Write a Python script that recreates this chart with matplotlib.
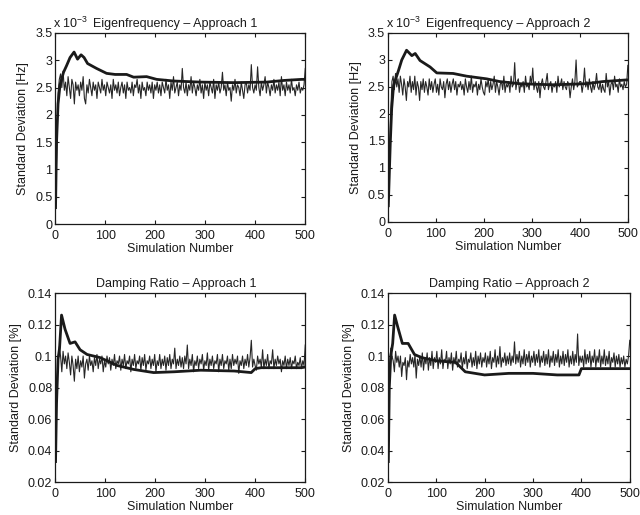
import matplotlib

matplotlib.use("Agg")
import matplotlib.pyplot as plt
import numpy as np
from matplotlib.ticker import FormatStrFormatter

# --- Data ---
# Per-simulation standard deviation (thin line), one value per ~2.5 simulations
ef1_thin = [
    0.3, 1.4, 2.4, 2.65, 2.75, 2.5, 2.8, 2.45, 2.6, 2.35, 2.7, 2.5, 2.3, 2.65, 2.55, 2.2, 2.6, 2.45, 2.55, 2.35,
    2.6, 2.45, 2.7, 2.3, 2.2, 2.55, 2.4, 2.65, 2.5, 2.35, 2.6, 2.45, 2.55, 2.3, 2.6, 2.5, 2.4, 2.65, 2.45, 2.55,
    2.35, 2.6, 2.5, 2.4, 2.55, 2.3, 2.65, 2.45, 2.55, 2.4, 2.6, 2.35, 2.5, 2.6, 2.4, 2.55, 2.3, 2.6, 2.45, 2.5,
    2.4, 2.6, 2.35, 2.55, 2.5, 2.65, 2.4, 2.55, 2.3, 2.6, 2.45, 2.5, 2.35, 2.6, 2.45, 2.55, 2.4, 2.6, 2.3, 2.55,
    2.45, 2.6, 2.4, 2.55, 2.35, 2.6, 2.5, 2.4, 2.65, 2.45, 2.55, 2.3, 2.6, 2.45, 2.7, 2.4, 2.5, 2.6, 2.35, 2.55,
    2.45, 2.85, 2.5, 2.4, 2.6, 2.35, 2.55, 2.45, 2.7, 2.4, 2.6, 2.5, 2.35, 2.55, 2.45, 2.65, 2.4, 2.55, 2.3, 2.6,
    2.45, 2.55, 2.35, 2.6, 2.5, 2.4, 2.65, 2.3, 2.55, 2.45, 2.6, 2.4, 2.5, 2.78, 2.45, 2.55, 2.35, 2.6, 2.45, 2.5,
    2.25, 2.55, 2.45, 2.65, 2.4, 2.55, 2.5, 2.35, 2.6, 2.45, 2.3, 2.55, 2.6, 2.4, 2.55, 2.45, 2.92, 2.5, 2.4, 2.55,
    2.45, 2.88, 2.5, 2.35, 2.6, 2.45, 2.55, 2.7, 2.4, 2.6, 2.5, 2.35, 2.55, 2.45, 2.65, 2.4, 2.55, 2.45, 2.6, 2.35,
    2.7, 2.45, 2.55, 2.35, 2.6, 2.45, 2.55, 2.4, 2.65, 2.45, 2.5, 2.35, 2.55, 2.45, 2.6, 2.4, 2.5, 2.45, 2.55, 2.85,
]
ef2_thin = [
    0.3, 1.2, 2.0, 2.6, 2.7, 2.45, 2.75, 2.5, 2.65, 2.4, 2.7, 2.55, 2.35, 2.65, 2.5, 2.25, 2.6, 2.5, 2.7, 2.4,
    2.6, 2.45, 2.7, 2.35, 2.6, 2.5, 2.25, 2.6, 2.45, 2.65, 2.4, 2.6, 2.5, 2.35, 2.65, 2.45, 2.6, 2.4, 2.55, 2.65,
    2.4, 2.55, 2.35, 2.65, 2.5, 2.45, 2.6, 2.3, 2.55, 2.65, 2.45, 2.6, 2.4, 2.55, 2.65, 2.45, 2.6, 2.35, 2.55, 2.5,
    2.6, 2.45, 2.55, 2.35, 2.65, 2.5, 2.4, 2.6, 2.45, 2.7, 2.4, 2.55, 2.5, 2.6, 2.35, 2.55, 2.45, 2.65, 2.5, 2.4,
    2.35, 2.6, 2.5, 2.65, 2.4, 2.6, 2.45, 2.55, 2.7, 2.4, 2.6, 2.5, 2.35, 2.55, 2.6, 2.45, 2.7, 2.4, 2.55, 2.5,
    2.6, 2.4, 2.7, 2.5, 2.55, 2.95, 2.45, 2.6, 2.65, 2.4, 2.55, 2.5, 2.6, 2.4, 2.7, 2.5, 2.55, 2.45, 2.7, 2.55,
    2.85, 2.45, 2.6, 2.5, 2.4, 2.6, 2.3, 2.55, 2.65, 2.5, 2.45, 2.6, 2.75, 2.45, 2.55, 2.6, 2.4, 2.55, 2.5, 2.6,
    2.4, 2.7, 2.5, 2.55, 2.65, 2.45, 2.6, 2.5, 2.45, 2.6, 2.55, 2.3, 2.5, 2.65, 2.45, 2.6, 3.0, 2.5, 2.55, 2.6,
    2.6, 2.4, 2.55, 2.85, 2.5, 2.6, 2.45, 2.65, 2.5, 2.4, 2.6, 2.45, 2.55, 2.75, 2.5, 2.45, 2.6, 2.4, 2.55, 2.45,
    2.4, 2.75, 2.5, 2.6, 2.35, 2.55, 2.6, 2.45, 2.7, 2.5, 2.55, 2.4, 2.65, 2.5, 2.55, 2.45, 2.6, 2.5, 2.55, 2.9,
]
dr1_thin = [
    0.033, 0.08, 0.098, 0.106, 0.1, 0.09, 0.103, 0.095, 0.1, 0.092, 0.102, 0.096, 0.088, 0.1, 0.094, 0.084, 0.098, 0.092, 0.1, 0.09,
    0.097, 0.093, 0.1, 0.086, 0.095, 0.098, 0.091, 0.1, 0.094, 0.097, 0.09, 0.099, 0.094, 0.101, 0.092, 0.098, 0.095, 0.1, 0.09, 0.097,
    0.093, 0.1, 0.095, 0.099, 0.091, 0.098, 0.094, 0.101, 0.092, 0.097, 0.095, 0.1, 0.091, 0.098, 0.094, 0.101, 0.092, 0.097, 0.095, 0.1,
    0.09, 0.098, 0.094, 0.101, 0.092, 0.097, 0.095, 0.1, 0.091, 0.099, 0.094, 0.101, 0.091, 0.097, 0.095, 0.1, 0.092, 0.098, 0.094, 0.101,
    0.09, 0.097, 0.094, 0.101, 0.092, 0.098, 0.094, 0.1, 0.091, 0.099, 0.094, 0.101, 0.092, 0.098, 0.095, 0.105, 0.092, 0.098, 0.094, 0.1,
    0.093, 0.099, 0.092, 0.1, 0.095, 0.107, 0.092, 0.098, 0.094, 0.101, 0.09, 0.097, 0.094, 0.1, 0.092, 0.098, 0.095, 0.101, 0.091, 0.097,
    0.094, 0.102, 0.091, 0.098, 0.094, 0.1, 0.092, 0.097, 0.095, 0.101, 0.09, 0.098, 0.094, 0.101, 0.092, 0.097, 0.095, 0.1, 0.091, 0.098,
    0.092, 0.101, 0.094, 0.098, 0.095, 0.1, 0.089, 0.097, 0.094, 0.1, 0.092, 0.098, 0.094, 0.101, 0.093, 0.099, 0.11, 0.093, 0.098, 0.094,
    0.091, 0.1, 0.095, 0.098, 0.093, 0.104, 0.092, 0.098, 0.094, 0.101, 0.092, 0.097, 0.095, 0.104, 0.092, 0.098, 0.094, 0.1, 0.095, 0.098,
    0.09, 0.097, 0.094, 0.1, 0.092, 0.098, 0.094, 0.099, 0.092, 0.097, 0.095, 0.1, 0.092, 0.096, 0.094, 0.099, 0.092, 0.097, 0.094, 0.107,
]
dr2_thin = [
    0.033, 0.09, 0.105, 0.1, 0.097, 0.09, 0.103, 0.096, 0.1, 0.093, 0.1, 0.087, 0.096, 0.094, 0.099, 0.085, 0.097, 0.093, 0.101, 0.095,
    0.099, 0.093, 0.101, 0.086, 0.098, 0.094, 0.1, 0.093, 0.102, 0.091, 0.099, 0.095, 0.102, 0.091, 0.099, 0.094, 0.103, 0.092, 0.099, 0.096,
    0.103, 0.092, 0.099, 0.095, 0.104, 0.092, 0.098, 0.096, 0.103, 0.092, 0.099, 0.095, 0.102, 0.091, 0.099, 0.095, 0.103, 0.093, 0.098, 0.096,
    0.102, 0.092, 0.099, 0.095, 0.103, 0.092, 0.098, 0.096, 0.102, 0.093, 0.099, 0.094, 0.103, 0.092, 0.1, 0.095, 0.102, 0.093, 0.099, 0.096,
    0.102, 0.093, 0.1, 0.095, 0.103, 0.092, 0.099, 0.096, 0.104, 0.093, 0.1, 0.095, 0.106, 0.093, 0.099, 0.096, 0.102, 0.094, 0.1, 0.095,
    0.102, 0.094, 0.1, 0.096, 0.109, 0.095, 0.101, 0.096, 0.103, 0.093, 0.1, 0.095, 0.104, 0.094, 0.101, 0.096, 0.103, 0.093, 0.1, 0.096,
    0.103, 0.094, 0.101, 0.096, 0.104, 0.093, 0.1, 0.096, 0.103, 0.094, 0.101, 0.095, 0.104, 0.093, 0.1, 0.096, 0.103, 0.094, 0.101, 0.096,
    0.104, 0.093, 0.1, 0.095, 0.103, 0.094, 0.101, 0.096, 0.104, 0.093, 0.1, 0.095, 0.103, 0.094, 0.101, 0.096, 0.114, 0.094, 0.1, 0.096,
    0.1, 0.093, 0.104, 0.095, 0.101, 0.096, 0.103, 0.093, 0.1, 0.096, 0.104, 0.093, 0.1, 0.096, 0.104, 0.093, 0.1, 0.095, 0.104, 0.094,
    0.1, 0.095, 0.103, 0.092, 0.099, 0.096, 0.102, 0.093, 0.1, 0.095, 0.101, 0.093, 0.099, 0.095, 0.1, 0.093, 0.098, 0.095, 0.1, 0.11,
]

# Running (cumulative) standard deviation (thick line)
ef1_run_x = [1, 3, 6, 10, 17, 23, 30, 38, 45, 52, 58, 65, 83, 103, 120, 143, 157, 183, 203, 237,
             290, 357, 423, 457, 493, 500]
ef1_run_y = [0.3, 1.5, 2.2, 2.55, 2.78, 2.9, 3.05, 3.15, 3.02, 3.1, 3.05, 2.94, 2.85, 2.76, 2.74,
             2.74, 2.69, 2.7, 2.65, 2.62, 2.6, 2.59, 2.6, 2.63, 2.65, 2.65]
ef2_run_x = [1, 5, 8, 12, 22, 29, 39, 50, 57, 67, 88, 102, 136, 164, 206, 233, 275, 344, 413, 448,
             497, 500]
ef2_run_y = [0.3, 1.44, 2.1, 2.53, 2.8, 3.0, 3.18, 3.08, 3.12, 2.99, 2.87, 2.76, 2.75, 2.7, 2.65,
             2.6, 2.56, 2.54, 2.56, 2.6, 2.63, 2.63]
dr1_run_x = [1, 3, 6, 9, 13, 20, 30, 40, 50, 64, 90, 124, 157, 197, 238, 291, 358, 392, 400, 412,
             492, 500]
dr1_run_y = [0.033, 0.07, 0.098, 0.105, 0.126, 0.117, 0.108, 0.109, 0.104, 0.101, 0.099, 0.094,
             0.0915, 0.0895, 0.09, 0.091, 0.0905, 0.0895, 0.092, 0.0926, 0.0926, 0.093]
dr2_run_x = [1, 3, 6, 10, 14, 20, 30, 42, 55, 70, 100, 140, 160, 200, 250, 300, 350, 395, 400,
             450, 500]
dr2_run_y = [0.033, 0.08, 0.1, 0.108, 0.126, 0.119, 0.108, 0.108, 0.101, 0.099, 0.097, 0.096,
             0.09, 0.088, 0.089, 0.089, 0.088, 0.088, 0.092, 0.092, 0.092]

titles = ["Eigenfrequency \u2013 Approach 1", "Eigenfrequency \u2013 Approach 2",
          "Damping Ratio \u2013 Approach 1", "Damping Ratio \u2013 Approach 2"]
ylabels = ["Standard Deviation [Hz]", "Standard Deviation [Hz]",
           "Standard Deviation [%]", "Standard Deviation [%]"]
ef_ticks = [0, 0.5, 1, 1.5, 2, 2.5, 3, 3.5]
dr_ticks = [0.02, 0.04, 0.06, 0.08, 0.1, 0.12, 0.14]
x_ticks = [0, 100, 200, 300, 400, 500]

plt.rcParams["font.family"] = ["Liberation Sans", "DejaVu Sans"]
plt.rcParams["font.size"] = 9
plt.rcParams["mathtext.fontset"] = "custom"
plt.rcParams["mathtext.rm"] = "Liberation Sans"
plt.rcParams["mathtext.default"] = "regular"
ink = "#1a1a1a"

fig = plt.figure(figsize=(6.4, 5.15), dpi=100)
boxes = [[0.086, 0.565, 0.391, 0.371], [0.606, 0.569, 0.375, 0.367],
         [0.086, 0.064, 0.391, 0.367], [0.606, 0.064, 0.378, 0.367]]
title_x = [0.48, 0.5, 0.485, 0.5]
thin = [ef1_thin, ef2_thin, dr1_thin, dr2_thin]
run = [(ef1_run_x, ef1_run_y), (ef2_run_x, ef2_run_y),
       (dr1_run_x, dr1_run_y), (dr2_run_x, dr2_run_y)]

for i, box in enumerate(boxes):
    ax = fig.add_axes(box)
    sims = np.linspace(1, 500, len(thin[i]))
    ax.plot(sims, thin[i], color="#262626", lw=0.8)
    ax.plot(run[i][0], run[i][1], color=ink, lw=2.0)

    ax.set_xlim(0, 500)
    ax.set_xticks(x_ticks)
    if i < 2:
        ax.set_ylim(0, 3.5)
        ax.set_yticks(ef_ticks)
        ax.text(-0.008, 1.012, r"x 10$^{-3}$", transform=ax.transAxes, color=ink,
                ha="left", va="bottom", fontsize=9)
    else:
        ax.set_ylim(0.02, 0.14)
        ax.set_yticks(dr_ticks)
    ax.yaxis.set_major_formatter(FormatStrFormatter("%g"))

    ax.set_title(titles[i], color=ink, fontsize=9, pad=4, x=title_x[i])
    ax.set_xlabel("Simulation Number", color=ink, labelpad=1)
    ax.set_ylabel(ylabels[i], color=ink, labelpad=4)
    ax.tick_params(direction="in", top=True, right=True, length=3, width=0.8,
                   labelsize=9, colors=ink)
    ax.tick_params(axis="x", pad=4)
    ax.tick_params(axis="y", pad=2)
    for s in ax.spines.values():
        s.set_color(ink)
        s.set_linewidth(0.9)

fig.savefig("out.png", dpi=100)
